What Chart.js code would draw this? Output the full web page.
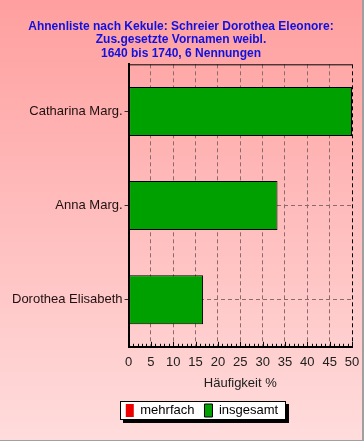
<!DOCTYPE html>
<html>
<head>
<meta charset="utf-8">
<script src="https://cdn.jsdelivr.net/npm/chart.js@4.4.0/dist/chart.umd.min.js"></script>
<style>
  html, body { margin: 0; padding: 0; background: #fff; }
  canvas { display: block; }
</style>
</head>
<body>
<canvas id="chart" width="364" height="441"></canvas>
<script>
// chart data
var categories = ["Catharina Marg.", "Anna Marg.", "Dorothea Elisabeth"];
var mehrfach = [0, 0, 0];
var insgesamt = [50, 33.33, 16.67];
var titleLines = ["Ahnenliste nach Kekule: Schreier Dorothea Eleonore:", "Zus.gesetzte Vornamen weibl.", "1640 bis 1740, 6 Nennungen"];
var xTitle = "Häufigkeit %";

var FONT = "'Liberation Sans', Arial, sans-serif";
var LEGEND_SHIFT = 21;

// background, frame, legend box, plot border and minor ticks
var decor = {
  id: "decor",
  afterLayout: function (chart) {
    // legend in the original sits a bit right of centre
    chart.legend.left += LEGEND_SHIFT;
    chart.legend.right += LEGEND_SHIFT;
  },
  beforeDraw: function (chart) {
    var c = chart.ctx, w = chart.width, h = chart.height;
    var g = c.createLinearGradient(0, 0, 0, h);
    g.addColorStop(0, "#ff9f9f");
    g.addColorStop(1, "#ffdcdc");
    c.save();
    c.fillStyle = g;
    c.fillRect(0, 0, w, h);
    c.fillStyle = "#a0a0a0";
    c.fillRect(w - 2, 0, 2, h);
    c.fillRect(0, h - 1, w, 1);

    // legend box with shadow
    var hb = chart.legend.legendHitBoxes;
    if (hb && hb.length) {
      var l = Infinity, r = -Infinity, t = Infinity, b = -Infinity;
      hb.forEach(function (x) {
        l = Math.min(l, x.left); r = Math.max(r, x.left + x.width);
        t = Math.min(t, x.top); b = Math.max(b, x.top + x.height);
      });
      var bx = Math.round(l) - 6, by = Math.round(t) - 3;
      var bw = Math.round(r - l) + 14, bh = Math.round(b - t) + 6;
      c.fillStyle = "#000";
      c.fillRect(bx + 3, by + 3, bw, bh);
      c.fillStyle = "#fff";
      c.fillRect(bx, by, bw, bh);
      c.strokeStyle = "#000";
      c.lineWidth = 1;
      c.strokeRect(bx + 0.5, by + 0.5, bw - 1, bh - 1);
    }
    c.restore();
  },
  afterDraw: function (chart) {
    var c = chart.ctx, a = chart.chartArea, xs = chart.scales.x;
    c.save();
    c.strokeStyle = "#000";
    c.lineWidth = 1;
    c.beginPath();
    c.moveTo(a.left, a.top + 0.5);
    c.lineTo(a.right, a.top + 0.5);
    for (var v = xs.min; v <= xs.max; v++) {
      var px = Math.round(xs.getPixelForValue(v)) + 0.5;
      var len = (v % 5 === 0) ? 5 : 3;
      c.moveTo(px, a.bottom);
      c.lineTo(px, a.bottom - len);
    }
    c.stroke();
    c.restore();
  }
};

var ctx = document.getElementById("chart");

var data = {
  labels: categories,
  datasets: [
    {
      label: "mehrfach",
      data: mehrfach,
      backgroundColor: "#ee0000",
      borderColor: "#000",
      borderWidth: 0,
      grouped: false
    },
    {
      label: "insgesamt",
      data: insgesamt,
      backgroundColor: "#00a000",
      borderColor: "#000",
      borderWidth: 1,
      borderSkipped: false,
      grouped: false
    }
  ]
};

var options = {
  indexAxis: "y",
  responsive: false,
  animation: false,
  categoryPercentage: 1,
  barPercentage: 0.52,
  layout: { padding: { left: 10, right: 12, top: 0, bottom: 14 } },
  plugins: {
    title: {
      display: true,
      text: titleLines,
      color: "#1010e0",
      font: { family: FONT, size: 12, weight: "bold", lineHeight: 1.12 },
      padding: { top: 20, bottom: 4 }
    },
    legend: {
      display: true,
      position: "bottom",
      labels: {
        color: "#000",
        font: { family: FONT, size: 13 },
        boxWidth: 8,
        boxHeight: 13,
        padding: 10
      }
    },
    tooltip: { enabled: false }
  },
  scales: {
    x: {
      min: 0,
      max: 50,
      afterFit: function (scale) { scale.paddingRight = 4; },
      ticks: {
        stepSize: 5,
        color: "#202020",
        font: { family: FONT, size: 13 },
        padding: 8,
        maxRotation: 0
      },
      grid: {
        color: function (c) { return c.tick && c.tick.value === 50 ? "#000" : "#8a6a6a"; },
        drawTicks: false
      },
      border: { color: "#000", width: 2, dash: [4, 3] },
      title: {
        display: true,
        text: xTitle,
        color: "#202020",
        font: { family: FONT, size: 13 },
        padding: { top: -3, bottom: 3 }
      }
    },
    y: {
      ticks: {
        color: "#201010",
        font: { family: FONT, size: 13 },
        padding: 2
      },
      grid: {
        offset: false,
        color: "#8a6a6a",
        tickColor: "#303030",
        tickLength: 4,
        tickBorderDash: []
      },
      border: { color: "#000", width: 2, dash: [4, 3] }
    }
  }
};

var chart = new Chart(ctx, {
  type: "bar",
  data: data,
  options: options,
  plugins: [decor]
});
</script>
</body>
</html>
